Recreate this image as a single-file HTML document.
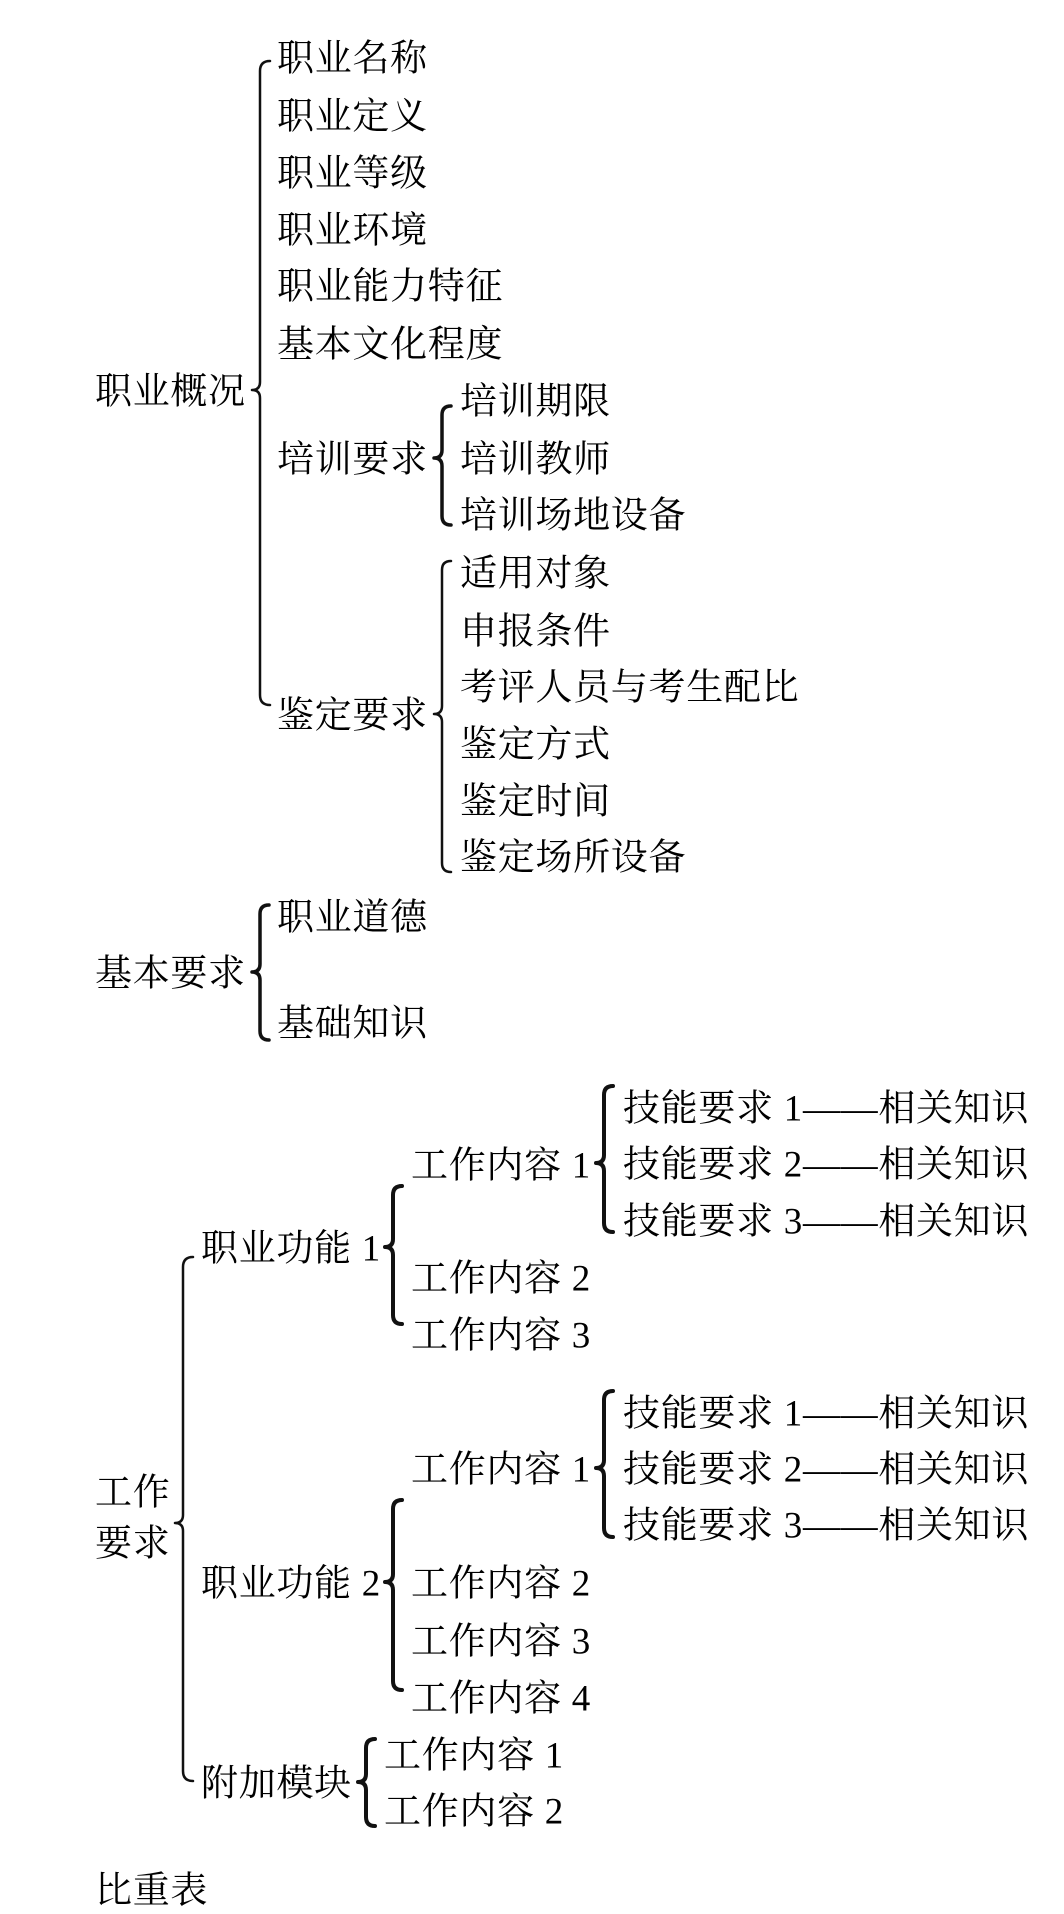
<!DOCTYPE html>
<html><head><meta charset="utf-8"><style>
html,body{margin:0;padding:0;background:#fff;}
body{width:1064px;height:1914px;position:relative;overflow:hidden;}
.t{position:absolute;white-space:nowrap;font-family:"Liberation Serif","Noto Serif CJK SC",serif;font-size:37px;letter-spacing:0.7px;line-height:1;color:#000;transform:translateY(-45%);}
svg{position:absolute;left:0;top:0;}
path{fill:none;stroke:#111;stroke-linecap:round;stroke-linejoin:round;}
</style></head><body>
<svg width="1064" height="1914">
<path stroke-width="2.5" d="M270,61 Q260,61 260,71 L260,382 Q260,390 252,390 Q260,390 260,398 L260,695 Q260,705 270,705"/>
<path stroke-width="3.5" d="M451,406 Q442,406 442,415 L442,450 Q442,458 434,458 Q442,458 442,466 L442,516 Q442,525 451,525"/>
<path stroke-width="2.5" d="M451,561 Q442,561 442,570 L442,706 Q442,714 434,714 Q442,714 442,722 L442,863 Q442,872 451,872"/>
<path stroke-width="3.5" d="M269,905 Q260,905 260,914 L260,964 Q260,972 252,972 Q260,972 260,980 L260,1031 Q260,1040 269,1040"/>
<path stroke-width="2.5" d="M193,1257 Q183,1257 183,1267 L183,1515 Q183,1523 175,1523 Q183,1523 183,1531 L183,1771 Q183,1781 193,1781"/>
<path stroke-width="4" d="M402,1186 Q393,1186 393,1195 L393,1239 Q393,1247 385,1247 Q393,1247 393,1255 L393,1315 Q393,1324 402,1324"/>
<path stroke-width="4" d="M613,1086 Q604,1086 604,1095 L604,1155 Q604,1163 596,1163 Q604,1163 604,1171 L604,1223 Q604,1232 613,1232"/>
<path stroke-width="4" d="M402,1500 Q393,1500 393,1509 L393,1574 Q393,1582 385,1582 Q393,1582 393,1590 L393,1681 Q393,1690 402,1690"/>
<path stroke-width="4" d="M613,1391 Q604,1391 604,1400 L604,1460 Q604,1468 596,1468 Q604,1468 604,1476 L604,1528 Q604,1537 613,1537"/>
<path stroke-width="4" d="M375,1739 Q366,1739 366,1748 L366,1774 Q366,1782 358,1782 Q366,1782 366,1790 L366,1817 Q366,1826 375,1826"/>
</svg>

<div class="t" style="left:95px;top:390px">职业概况</div>
<div class="t" style="left:277px;top:57px">职业名称</div>
<div class="t" style="left:277px;top:115px">职业定义</div>
<div class="t" style="left:277px;top:172px">职业等级</div>
<div class="t" style="left:277px;top:229px">职业环境</div>
<div class="t" style="left:277px;top:285px">职业能力特征</div>
<div class="t" style="left:277px;top:343px">基本文化程度</div>
<div class="t" style="left:277px;top:458px">培训要求</div>
<div class="t" style="left:277px;top:714px">鉴定要求</div>
<div class="t" style="left:460px;top:400px">培训期限</div>
<div class="t" style="left:460px;top:458px">培训教师</div>
<div class="t" style="left:460px;top:514px">培训场地设备</div>
<div class="t" style="left:460px;top:572px">适用对象</div>
<div class="t" style="left:460px;top:630px">申报条件</div>
<div class="t" style="left:460px;top:686px">考评人员与考生配比</div>
<div class="t" style="left:460px;top:743px">鉴定方式</div>
<div class="t" style="left:460px;top:800px">鉴定时间</div>
<div class="t" style="left:460px;top:856px">鉴定场所设备</div>

<div class="t" style="left:95px;top:972px">基本要求</div>
<div class="t" style="left:277px;top:916px">职业道德</div>
<div class="t" style="left:277px;top:1022px">基础知识</div>

<div class="t" style="left:95px;top:1491px">工作</div>
<div class="t" style="left:95px;top:1542px">要求</div>
<div class="t" style="left:201px;top:1247px">职业功能 1</div>
<div class="t" style="left:201px;top:1582px">职业功能 2</div>
<div class="t" style="left:201px;top:1782px">附加模块</div>

<div class="t" style="left:411px;top:1164px">工作内容 1</div>
<div class="t" style="left:411px;top:1277px">工作内容 2</div>
<div class="t" style="left:411px;top:1334px">工作内容 3</div>
<div class="t" style="left:411px;top:1468px">工作内容 1</div>
<div class="t" style="left:411px;top:1582px">工作内容 2</div>
<div class="t" style="left:411px;top:1640px">工作内容 3</div>
<div class="t" style="left:411px;top:1697px">工作内容 4</div>
<div class="t" style="left:384px;top:1754px">工作内容 1</div>
<div class="t" style="left:384px;top:1810px">工作内容 2</div>

<div class="t" style="left:623px;top:1107px">技能要求 1——相关知识</div>
<div class="t" style="left:623px;top:1163px">技能要求 2——相关知识</div>
<div class="t" style="left:623px;top:1220px">技能要求 3——相关知识</div>
<div class="t" style="left:623px;top:1412px">技能要求 1——相关知识</div>
<div class="t" style="left:623px;top:1468px">技能要求 2——相关知识</div>
<div class="t" style="left:623px;top:1524px">技能要求 3——相关知识</div>

<div class="t" style="left:95px;top:1889px">比重表</div>
</body></html>
